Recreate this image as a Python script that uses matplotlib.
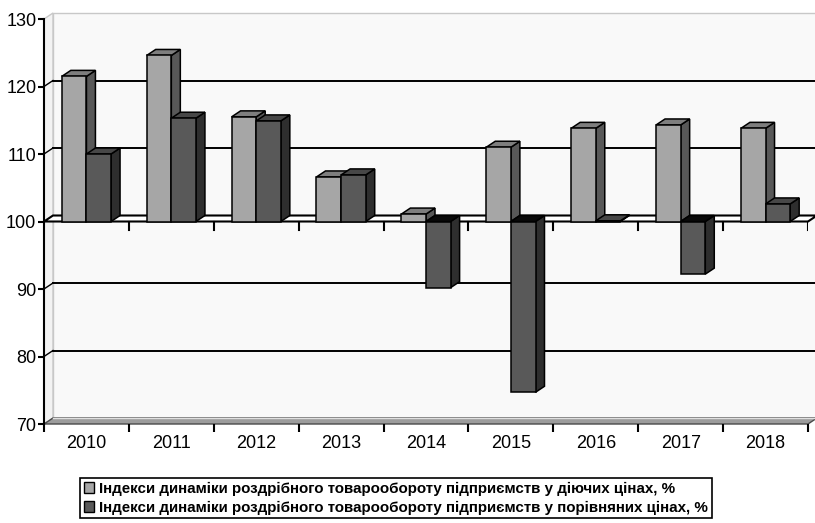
import matplotlib.pyplot as plt
from matplotlib.patches import Polygon, Patch

# Data (index, %)
years = ['2010', '2011', '2012', '2013', '2014', '2015', '2016', '2017', '2018']
current_prices = [121.5, 124.6, 115.5, 106.6, 101.1, 111.0, 113.8, 114.3, 113.8]
comparable_prices = [110.0, 115.3, 114.9, 106.9, 90.2, 74.7, 100.1, 92.2, 102.6]
series_names = [
    'Індекси динаміки роздрібного товарообороту підприємств у діючих цінах, %',
    'Індекси динаміки роздрібного товарообороту підприємств у порівняних цінах, %',
]
base = 100
y_ticks = [70, 80, 90, 100, 110, 120, 130]

plt.rcParams['font.family'] = ['Liberation Sans', 'DejaVu Sans']

# colours of the faces: front, side, top
light = ('#a6a6a6', '#585858', '#7e7e7e')
dark = ('#595959', '#2e2e2e', '#474747')

fig = plt.figure(figsize=(8.15, 5.23), dpi=100)
ax = fig.add_axes([44 / 815, 1 - 424 / 523, 764 / 815, 405 / 523])
ax.set_xlim(-0.5, len(years) - 0.5)
ax.set_ylim(70, 130)
ax.set_facecolor('none')

# depth of the 3D effect in data units
dx = 9 / 85
dy = 6 / (405 / 60)
x0, x1 = -0.5, len(years) - 0.5
ymin, ymax = 70, 130

# walls
ax.add_patch(Polygon([(x0 + dx, ymin + dy), (x1 + dx, ymin + dy), (x1 + dx, ymax + dy), (x0 + dx, ymax + dy)],
                     closed=True, fc='#f9f9f9', ec='#c8c8c8', lw=1, zorder=0, clip_on=False))
ax.add_patch(Polygon([(x0, ymin), (x0 + dx, ymin + dy), (x0 + dx, ymax + dy), (x0, ymax)],
                     closed=True, fc='#f3f3f3', ec='#c8c8c8', lw=1, zorder=0, clip_on=False))
# floor
ax.add_patch(Polygon([(x0, ymin), (x1, ymin), (x1 + dx, ymin + dy), (x0 + dx, ymin + dy)],
                     closed=True, fc='#9c9c9c', ec='#4a4a4a', lw=1, zorder=1, clip_on=False))
ax.plot([x0 + dx, x1 + dx], [ymin + dy, ymin + dy], color='#e0e0e0', lw=1, zorder=1, clip_on=False)

# gridlines on the back wall
for v in y_ticks[1:-1]:
    if v == base:
        continue
    ax.plot([x0 + dx, x1 + dx], [v + dy, v + dy], color='black', lw=1.4, zorder=1, clip_on=False)
    ax.plot([x0, x0 + dx], [v, v + dy], color='black', lw=1, zorder=1, clip_on=False)

# plane of the category axis at 100
ax.add_patch(Polygon([(x0, base), (x1, base), (x1 + dx, base + dy), (x0 + dx, base + dy)],
                     closed=True, fc='white', ec='black', lw=1.5, zorder=2, clip_on=False))
for i in range(1, len(years) + 1):
    ax.plot([i - 0.5, i - 0.5], [base, base - 1.2], color='black', lw=1.5, zorder=2)

bar_w = 0.29


def bar3d(xl, value, cols, z):
    xr = xl + bar_w
    lo, hi = min(value, base), max(value, base)
    front = [(xl, lo), (xr, lo), (xr, hi), (xl, hi)]
    side = [(xr, lo), (xr + dx, lo + dy), (xr + dx, hi + dy), (xr, hi)]
    top = [(xl, hi), (xr, hi), (xr + dx, hi + dy), (xl + dx, hi + dy)]
    top_col = cols[2] if value >= base else '#0a0a0a'
    ax.add_patch(Polygon(side, closed=True, fc=cols[1], ec='black', lw=1.1, zorder=z))
    ax.add_patch(Polygon(top, closed=True, fc=top_col, ec='black', lw=1.1, zorder=z))
    ax.add_patch(Polygon(front, closed=True, fc=cols[0], ec='black', lw=1.1, zorder=z))


for i in range(len(years)):
    bar3d(i - bar_w, current_prices[i], light, 3 + 2 * i)
    bar3d(i, comparable_prices[i], dark, 4 + 2 * i)

# axes
for s in ['top', 'right', 'bottom']:
    ax.spines[s].set_visible(False)
ax.spines['left'].set_linewidth(1.5)
ax.spines['left'].set_zorder(30)
ax.set_yticks(y_ticks)
ax.tick_params(axis='y', length=4.5, width=1.5, labelsize=13, pad=1)
ax.set_xticks(range(len(years)))
ax.set_xticklabels(years)
ax.set_xticks([i - 0.5 for i in range(len(years) + 1)], minor=True)
ax.tick_params(axis='x', which='major', length=0, labelsize=13, pad=8)
ax.tick_params(axis='x', which='minor', length=6, width=1.5)

handles = [Patch(fc=light[0], ec='black', lw=1), Patch(fc=dark[0], ec='black', lw=1)]
leg = fig.legend(handles, series_names, loc='upper left', bbox_to_anchor=(80 / 815, 1 - 478 / 523),
                 frameon=True, fancybox=False, edgecolor='black', framealpha=1,
                 prop={'weight': 'bold', 'size': 10.9}, handlelength=0.7, handleheight=0.7,
                 handletextpad=0.3, labelspacing=0.3, borderpad=0.25, borderaxespad=0)
leg.get_frame().set_linewidth(1.2)

fig.savefig('out.png', dpi=100, facecolor='white')
